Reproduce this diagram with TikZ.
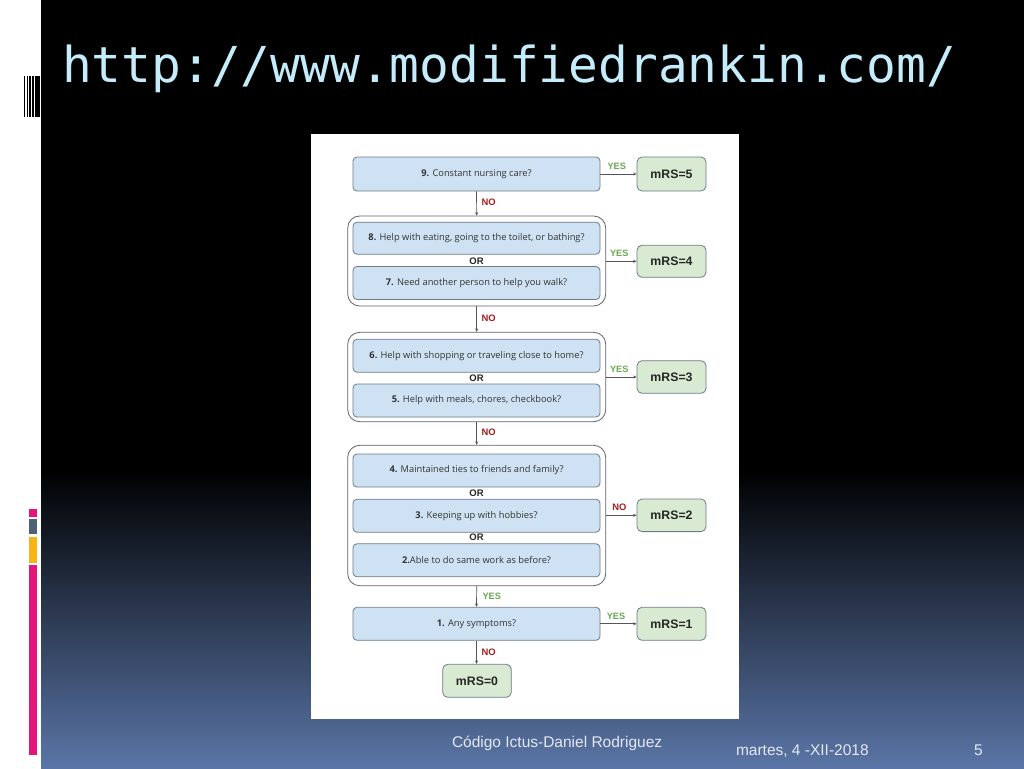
\documentclass[tikz,border=0pt]{standalone}
\usepackage{fontspec}
\setmainfont{Liberation Sans}
\newfontfamily\qfont{Open Sans}
\newfontfamily\afont{Liberation Sans}
\newfontfamily\tfont{DejaVu Sans Mono}
\usetikzlibrary{arrows.meta}
\definecolor{qblue}{HTML}{CFE2F3}
\definecolor{mgreen}{HTML}{D9EAD3}
\definecolor{bordergray}{HTML}{6E7A86}
\definecolor{grpgray}{HTML}{5F656B}
\definecolor{qtext}{HTML}{333333}
\definecolor{yesgreen}{HTML}{6AA84F}
\definecolor{nored}{HTML}{A61C1C}
\definecolor{arrgray}{HTML}{555555}
\definecolor{titlecyan}{HTML}{C4ECFA}
\definecolor{slideblue}{HTML}{5A75A6}
\definecolor{footgray}{HTML}{E4E8F0}
\definecolor{barpink}{HTML}{E4167C}
\definecolor{bargray}{HTML}{4F6175}
\definecolor{baryellow}{HTML}{F8B412}
\tikzset{
  qbox/.style={draw=bordergray, fill=qblue, rounded corners=4pt, line width=0.8pt,
    minimum width=247pt, minimum height=33pt, inner sep=0pt,
    font=\qfont\fontsize{9.3}{11}\selectfont, text=qtext},
  mbox/.style={draw=bordergray, fill=mgreen, rounded corners=5pt, line width=0.8pt,
    minimum width=69pt, minimum height=33pt, inner sep=0pt,
    font=\afont\bfseries\fontsize{12.3}{14}\selectfont, text=black!85},
  grp/.style={draw=grpgray, rounded corners=12pt, line width=0.8pt,
    minimum width=258pt, inner sep=0pt},
  orlbl/.style={font=\afont\bfseries\fontsize{9.5}{11}\selectfont, text=black!85, inner sep=0pt},
  yeslbl/.style={font=\afont\bfseries\fontsize{9.2}{11}\selectfont, text=yesgreen, inner sep=0pt},
  nolbl/.style={font=\afont\bfseries\fontsize{9.4}{11}\selectfont, text=nored, inner sep=0pt},
  arr/.style={draw=arrgray, line width=0.7pt, -{Stealth[length=3.5pt,width=3pt]}},
  foot/.style={font=\afont\fontsize{15.5}{17}\selectfont, text=footgray, inner sep=0pt, anchor=base west}
}
\begin{document}
\begin{tikzpicture}[x=1pt,y=-1pt]
\useasboundingbox (0,0) rectangle (1024,768);
% slide background
\fill[white] (0,0) rectangle (1024,768);
\fill[black] (41,0) rectangle (1024,470);
\shade[top color=black, bottom color=slideblue] (41,469.5) rectangle (1024,768);
% left decorations
\fill[black] (24,76) rectangle (25.4,117);
\fill[black] (26.6,76) rectangle (27.8,117);
\fill[black] (29.2,76) rectangle (31,117);
\fill[black] (32.3,76) rectangle (33.6,117);
\fill[black] (35,76) rectangle (40,117);
\fill[barpink] (28.7,508.7) rectangle (36.7,516.7);
\fill[bargray] (28.7,519.3) rectangle (36.7,534.3);
\fill[baryellow] (28.7,537.3) rectangle (36.7,563);
\fill[barpink] (28.7,565.3) rectangle (36.7,755);
% title
\node[anchor=base west, inner sep=0pt, text=titlecyan, font=\tfont\fontsize{49.5}{52}\selectfont] (title) at (62,82) {http://www.modifiedrankin.com/};
% panel
\fill[white] (310.5,134) rectangle (739,719);
% groups
\node[grp, minimum height=90pt] (g1) at (476.7,261) {};
\node[grp, minimum height=89.4pt] (g2) at (476.7,377) {};
\node[grp, minimum height=140.4pt] (g3) at (476.7,515.5) {};
% question boxes
\node[qbox, minimum height=34pt] (q9) at (476.5,174) {\textbf{9.} Constant nursing care?};
\node[qbox, minimum height=32pt] (q8) at (476.5,238.2) {\textbf{8.} Help with eating, going to the toilet, or bathing?};
\node[qbox] (q7) at (476.5,283) {\textbf{7.} Need another person to help you walk?};
\node[qbox] (q6) at (476.5,355.7) {\textbf{6.} Help with shopping or traveling close to home?};
\node[qbox] (q5) at (476.5,400.5) {\textbf{5.} Help with meals, chores, checkbook?};
\node[qbox] (q4) at (476.5,470.5) {\textbf{4.} Maintained ties to friends and family?};
\node[qbox] (q3) at (476.5,515.7) {\textbf{3.} Keeping up with hobbies?};
\node[qbox] (q2) at (476.5,560.3) {\textbf{2.}Able to do same work as before?};
\node[qbox] (q1) at (476.5,623.8) {\textbf{1.} Any symptoms?};
% OR labels
\node[orlbl] (or1) at (476.5,261) {OR};
\node[orlbl] (or2) at (476.5,378.3) {OR};
\node[orlbl] (or3) at (476.5,493.3) {OR};
\node[orlbl] (or4) at (476.5,537.7) {OR};
% result boxes
\node[mbox, minimum height=34pt] (m5) at (671.5,174) {mRS=5};
\node[mbox, minimum height=32pt] (m4) at (671.5,261.3) {mRS=4};
\node[mbox, minimum height=32.6pt] (m3) at (671.5,377) {mRS=3};
\node[mbox, minimum height=32.6pt] (m2) at (671.5,515.3) {mRS=2};
\node[mbox] (m1) at (671.5,623.8) {mRS=1};
\node[mbox, minimum width=68.6pt] (m0) at (477,680.8) {mRS=0};
% connectors
\draw[arr] (q9.south) -- (g1.north);
\draw[arr] (g1.south) -- (g2.north);
\draw[arr] (g2.south) -- (g3.north);
\draw[arr] (g3.south) -- (q1.north);
\draw[arr] (q1.south) -- (q1.south |- m0.north);
\draw[arr] (q9.east) -- (m5.west);
\draw[arr] (g1.east |- m4.west) -- (m4.west);
\draw[arr] (g2.east |- m3.west) -- (m3.west);
\draw[arr] (g3.east |- m2.west) -- (m2.west);
\draw[arr] (q1.east) -- (m1.west);
% connector labels
\node[yeslbl] (y9) at (616.7,166) {YES};
\node[nolbl] (n9) at (488.7,202.7) {NO};
\node[yeslbl] (y8) at (619.3,253.3) {YES};
\node[nolbl] (n8) at (488.7,318.7) {NO};
\node[yeslbl] (y6) at (619.3,369.3) {YES};
\node[nolbl] (n6) at (488.7,432.3) {NO};
\node[nolbl] (n4) at (619.3,507.7) {NO};
\node[yeslbl] (y4) at (491.7,596) {YES};
\node[yeslbl] (y1) at (616,616) {YES};
\node[nolbl] (n1) at (488.7,652) {NO};
% footer
\node[foot] (f1) at (451.8,747.5) {Código Ictus-Daniel Rodriguez};
\node[foot] (f2) at (735.8,755.5) {martes, 4 -XII-2018};
\node[foot] (f3) at (974,755) {5};
\end{tikzpicture}
\end{document}
